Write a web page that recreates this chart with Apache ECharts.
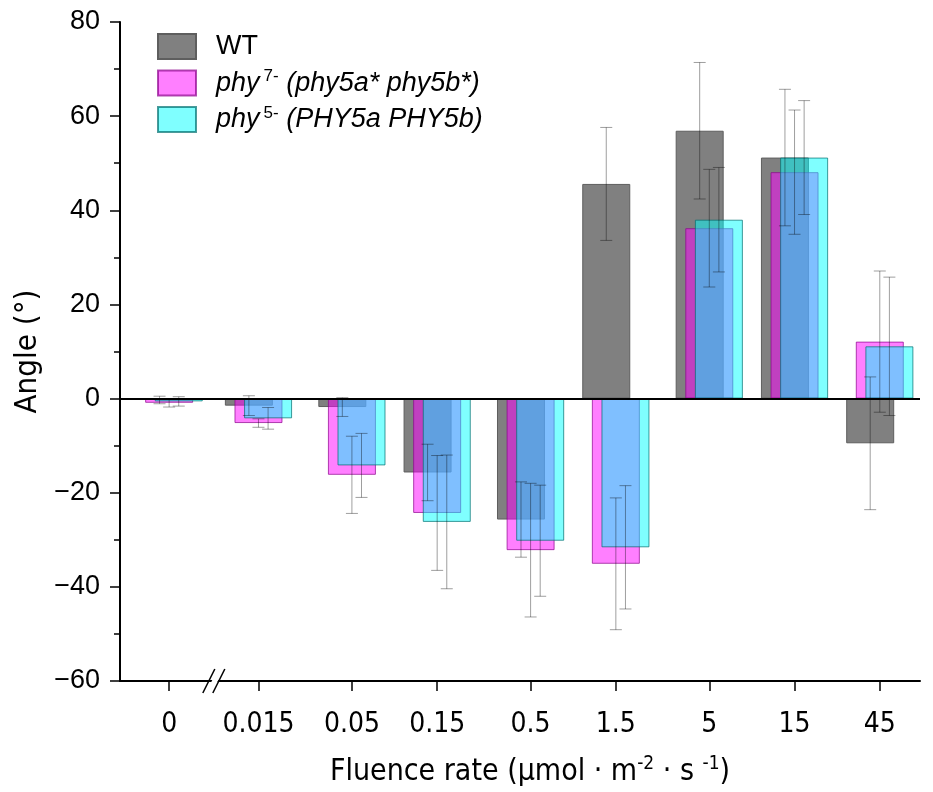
<!DOCTYPE html>
<html>
<head>
<meta charset="utf-8">
<script src="https://cdn.jsdelivr.net/npm/echarts@6/dist/echarts.min.js"></script>
<style>
html, body { margin: 0; padding: 0; background: #fff; }
#chart { width: 933px; height: 792px; }
</style>
</head>
<body>
<div id="chart"></div>
<script>
// 光强（μmol·m-2·s-1），x轴为对数刻度，0 放在断轴左侧
const rates = ['0', '0.015', '0.05', '0.15', '0.5', '1.5', '5', '15', '45'];
// 平均角度 (°)
const wt = [-0.3, -1.5, -1.8, -15.7, -25.7, 45.6, 56.9, 51.2, -9.5];
const phy7 = [-0.9, -5.2, -16.2, -24.3, -32.2, -35.1, 36.2, 48.1, 12.1];
const phy5 = [-0.6, -4.2, -14.2, -26.2, -30.2, -31.6, 38.0, 51.2, 11.1];
// 误差 (±)
const wtErr = [0.8, 2.1, 2.0, 6.0, 8.0, 12.0, 14.5, 14.5, 14.1];
const phy7Err = [0.9, 0.9, 8.2, 12.2, 14.2, 14.0, 12.5, 13.2, 15.0];
const phy5Err = [1.0, 2.3, 6.8, 14.2, 11.8, 13.1, 11.1, 12.1, 14.7];

const seriesNames = ['WT', 'phy7', 'phy5'];
const legendText = {
	'WT': '{r|WT}',
	'phy7': '{n|phy}{s|7-}{n| (phy5a* phy5b*)}',
	'phy5': '{n|phy}{s|5-}{n| (PHY5a PHY5b)}'
};

const FONT = 'Liberation Sans, Arial, sans-serif';
const NARROW = 'Liberation Sans Narrow, DejaVu Sans Condensed, sans-serif';

// log10 位置，0 放在 0.015 左边半个数量级
const zeroPos = Math.log10(0.015) - 0.5;
const xPos = rates.map(r => Number(r) > 0 ? Math.log10(Number(r)) : zeroPos);
const breakPos = (xPos[0] + xPos[1]) / 2;

const barW = 48;
const shift = barW * 0.2; // 相邻柱子错开的距离
const errColor = 'rgba(0,0,0,0.38)';

function pairs(vals) {
	return vals.map((v, i) => [xPos[i], v]);
}
function errData(vals, errs) {
	return vals.map((v, i) => [xPos[i], v, errs[i]]);
}
function errRender(offset) {
	return function(params, api) {
		let x = api.value(0), v = api.value(1), e = api.value(2);
		let hi = api.coord([x, v + e]);
		let lo = api.coord([x, v - e]);
		let cx = hi[0] + offset;
		let cap = 6;
		let st = { stroke: errColor, lineWidth: 1 };
		return {
			type: 'group',
			children: [
				{ type: 'line', shape: { x1: cx, y1: hi[1], x2: cx, y2: lo[1] }, style: st },
				{ type: 'line', shape: { x1: cx - cap, y1: hi[1], x2: cx + cap, y2: hi[1] }, style: st },
				{ type: 'line', shape: { x1: cx - cap, y1: lo[1], x2: cx + cap, y2: lo[1] }, style: st }
			]
		};
	};
}

var myChart = echarts.init(document.getElementById('chart'), null, { renderer: 'canvas' });
let option = {
	animation: false,
	backgroundColor: '#fff',
	grid: {
		left: 120,
		right: 13,
		top: 22,
		bottom: 108
	},
	legend: {
		orient: 'vertical',
		left: 152,
		top: 28,
		itemWidth: 38,
		itemHeight: 25,
		itemGap: 8,
		icon: 'rect',
		data: seriesNames,
		formatter: name => legendText[name],
		textStyle: {
			padding: [0, 0, 0, 15],
			rich: {
				r: { fontSize: 27, fontFamily: FONT, color: '#000', lineHeight: 30 },
				n: { fontSize: 27, fontFamily: FONT, fontStyle: 'italic', color: '#000', lineHeight: 30 },
				s: { fontSize: 17, fontFamily: FONT, color: '#000', lineHeight: 17, verticalAlign: 'top', padding: [0, 0, 0, 4] }
			}
		}
	},
	xAxis: {
		type: 'value',
		min: zeroPos - 0.275,
		max: Math.log10(45) + 0.225,
		splitLine: { show: false },
		axisLine: { onZero: false, lineStyle: { color: '#000', width: 2 } },
		axisTick: {
			length: 10,
			lineStyle: { color: '#000', width: 1.5 },
			customValues: xPos
		},
		axisLabel: {
			customValues: xPos,
			margin: 30,
			fontSize: 28,
			fontFamily: NARROW,
			color: '#000',
			formatter: function(val) {
				let best = 0;
				xPos.forEach((p, i) => { if (Math.abs(p - val) < Math.abs(xPos[best] - val)) best = i; });
				return rates[best];
			}
		},
		name: '{n|Fluence rate (μmol · m}{s|-2}{n| · s }{s|-1}{n|)}',
		nameLocation: 'middle',
		nameGap: 74,
		nameTextStyle: {
			padding: [0, 0, 0, 20],
			rich: {
				n: { fontSize: 30, fontFamily: NARROW, color: '#000', lineHeight: 34 },
				s: { fontSize: 19, fontFamily: NARROW, color: '#000', lineHeight: 19, verticalAlign: 'top' }
			}
		}
	},
	yAxis: {
		type: 'value',
		min: -60,
		max: 80,
		interval: 20,
		splitLine: { show: false },
		axisLine: { show: true, onZero: false, lineStyle: { color: '#000', width: 2 } },
		axisTick: { show: true, length: 10, lineStyle: { color: '#000', width: 1.5 } },
		minorTick: { show: true, splitNumber: 2, length: 6, lineStyle: { color: '#000', width: 1.5 } },
		axisLabel: {
			margin: 20,
			fontSize: 27,
			fontFamily: FONT,
			color: '#000',
			formatter: v => String(v).replace('-', '\u2212')
		},
		name: 'Angle (°)',
		nameLocation: 'middle',
		nameGap: 72,
		nameTextStyle: { fontSize: 31, fontFamily: NARROW, color: '#000' }
	},
	series: [
		{
			name: 'WT',
			type: 'bar',
			data: pairs(wt),
			barWidth: barW,
			barGap: '-80%',
			itemStyle: { color: '#808080', borderColor: '#5e5e5e', borderWidth: 1 }
		},
		{
			name: 'phy7',
			type: 'bar',
			data: pairs(phy7),
			barWidth: barW,
			barGap: '-80%',
			itemStyle: { color: 'rgba(255,0,255,0.5)', borderColor: 'rgba(140,0,140,0.7)', borderWidth: 1 }
		},
		{
			name: 'phy5',
			type: 'bar',
			data: pairs(phy5),
			barWidth: barW,
			barGap: '-80%',
			itemStyle: { color: 'rgba(0,255,255,0.5)', borderColor: 'rgba(0,110,110,0.7)', borderWidth: 1 },
			markLine: {
				silent: true,
				symbol: 'none',
				label: { show: false },
				lineStyle: { color: '#000', width: 2, type: 'solid' },
				data: [{ yAxis: 0 }]
			}
		},
		{
			type: 'custom',
			data: errData(wt, wtErr),
			renderItem: errRender(-shift),
			encode: { x: 0, y: 1 },
			z: 3
		},
		{
			type: 'custom',
			data: errData(phy7, phy7Err),
			renderItem: errRender(0),
			encode: { x: 0, y: 1 },
			z: 3
		},
		{
			type: 'custom',
			data: errData(phy5, phy5Err),
			renderItem: errRender(shift),
			encode: { x: 0, y: 1 },
			z: 3
		},
		{ // 断轴符号 //
			type: 'custom',
			clip: false,
			silent: true,
			z: 5,
			data: [[breakPos, -60]],
			encode: { x: 0, y: 1 },
			renderItem: function(params, api) {
				let p = api.coord([api.value(0), api.value(1)]);
				let st = { stroke: '#000', lineWidth: 1.5 };
				return {
					type: 'group',
					children: [
						{ type: 'polygon', shape: { points: [[p[0] - 5, p[1] + 6], [p[0] + 1, p[1] - 6], [p[0] + 7, p[1] - 6], [p[0] + 1, p[1] + 6]] }, style: { fill: '#fff' } },
						{ type: 'line', shape: { x1: p[0] - 11, y1: p[1] + 12, x2: p[0] + 1, y2: p[1] - 12 }, style: st },
						{ type: 'line', shape: { x1: p[0] - 1, y1: p[1] + 12, x2: p[0] + 11, y2: p[1] - 12 }, style: st }
					]
				};
			}
		}
	]
};
myChart.setOption(option);
</script>
</body>
</html>
